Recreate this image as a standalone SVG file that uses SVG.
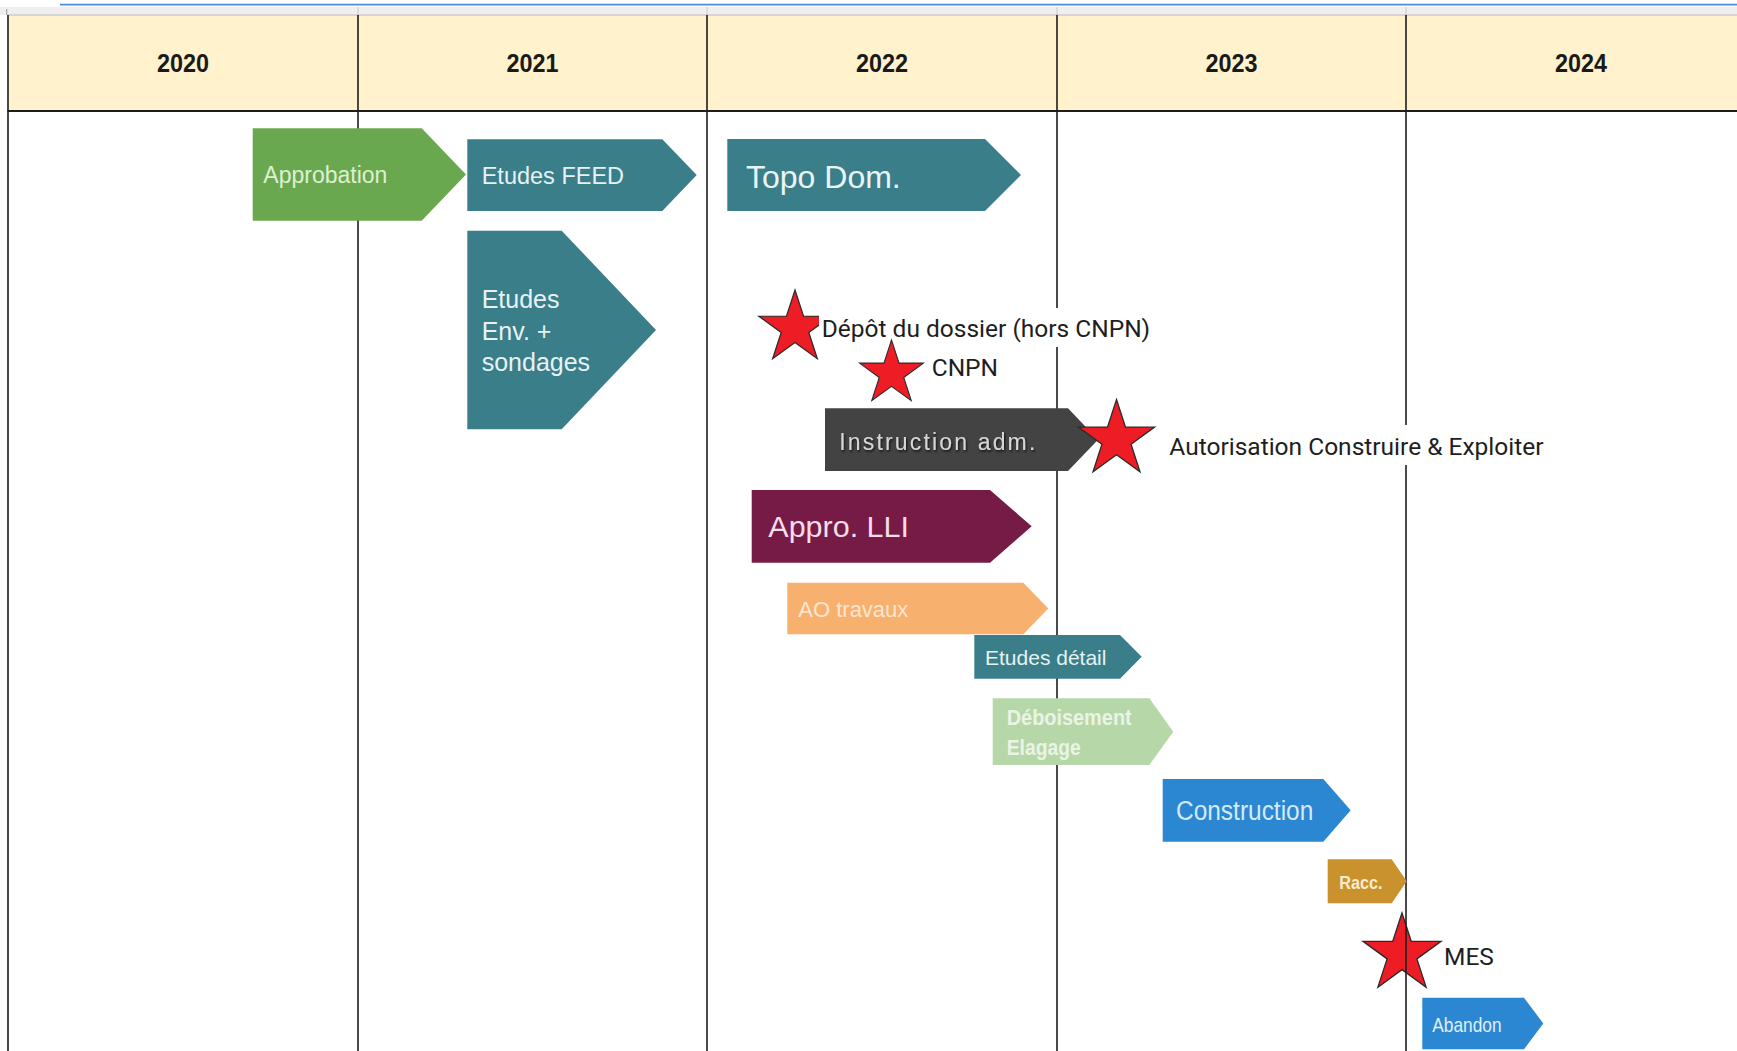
<svg xmlns="http://www.w3.org/2000/svg" width="1737" height="1051" viewBox="0 0 1737 1051">
  <defs>
    <style>
      .grid { stroke: #1c1c1c; stroke-width: 1.6; fill: none; }
      .yr { font-family: "Liberation Sans", Arial, sans-serif; font-weight: bold; font-size: 25px; fill: #1a1a1a; text-anchor: middle; }
      .lbl { font-family: "Liberation Sans", Arial, sans-serif; }
      .note { font-family: Roboto, "Liberation Sans", sans-serif; font-size: 24.5px; fill: #1e1e1e; }
      .star { fill: #EE1C25; stroke: #2b2b2b; stroke-width: 1.3; }
    </style>
    <polygon id="starShape" points="0,-40 8.99,-12.38 38.04,-12.36 14.55,4.73 23.51,32.36 0,15.3 -23.51,32.36 -14.55,4.73 -38.04,-12.36 -8.99,-12.38"/>
    <filter id="shadow" x="-10%" y="-30%" width="120%" height="160%">
      <feDropShadow dx="1" dy="1.5" stdDeviation="1" flood-color="#000000" flood-opacity="0.8"/>
    </filter>
  </defs>

  <rect x="0" y="0" width="1737" height="1051" fill="#ffffff"/>

  <!-- top chrome -->
  <g id="chrome">
    <line x1="60" y1="4.7" x2="1737" y2="4.7" stroke="#4A90D9" stroke-width="1.8"/>
    <rect x="0" y="7" width="1737" height="8" fill="#EFEFEF"/>
    <line x1="6.7" y1="9" x2="6.7" y2="15" stroke="#9a9a9a" stroke-width="1"/>
    <line x1="358" y1="7" x2="358" y2="15" stroke="#c8c8c8" stroke-width="1"/>
    <line x1="707" y1="7" x2="707" y2="15" stroke="#c8c8c8" stroke-width="1"/>
    <line x1="1057" y1="7" x2="1057" y2="15" stroke="#c8c8c8" stroke-width="1"/>
    <line x1="1406" y1="7" x2="1406" y2="15" stroke="#c8c8c8" stroke-width="1"/>
  </g>

  <!-- header band -->
  <g id="header">
    <rect x="7.5" y="15" width="1730" height="96" fill="#FFF2CC"/>
    <line x1="7.5" y1="15" x2="1737" y2="15" stroke="#b8b8b8" stroke-width="1"/>
  </g>

  <!-- MES star sits beneath the 2024 grid line -->
  <g id="star-mes">
    <use href="#starShape" class="star" transform="translate(1402,954) scale(1.025)"/>
  </g>

  <!-- grid lines -->
  <g id="grid">
    <line class="grid" x1="8" y1="15" x2="8" y2="1051"/>
    <line class="grid" x1="358" y1="15" x2="358" y2="1051"/>
    <line class="grid" x1="707" y1="15" x2="707" y2="1051"/>
    <line class="grid" x1="1057" y1="15" x2="1057" y2="1051"/>
    <line class="grid" x1="1406" y1="15" x2="1406" y2="1051"/>
    <line x1="7.5" y1="111" x2="1737" y2="111" stroke="#1c1c1c" stroke-width="2.2"/>
  </g>

  <!-- year headers -->
  <g id="years">
    <text class="yr" x="183" y="71.5" textLength="52" lengthAdjust="spacingAndGlyphs">2020</text>
    <text class="yr" x="532.5" y="71.5" textLength="52" lengthAdjust="spacingAndGlyphs">2021</text>
    <text class="yr" x="882" y="71.5" textLength="52" lengthAdjust="spacingAndGlyphs">2022</text>
    <text class="yr" x="1231.5" y="71.5" textLength="52" lengthAdjust="spacingAndGlyphs">2023</text>
    <text class="yr" x="1581" y="71.5" textLength="52" lengthAdjust="spacingAndGlyphs">2024</text>
  </g>

  <!-- task chevrons -->
  <g id="approbation">
    <polygon points="252.7,128.3 421.7,128.3 466,174.5 421.7,220.7 252.7,220.7" fill="#6AA84F"/>
    <text class="lbl" x="263.3" y="182.7" font-size="23" fill="#DDF0D5">Approbation</text>
  </g>

  <g id="etudes-feed">
    <polygon points="467.3,139.3 662.3,139.3 696.7,175 662.3,211 467.3,211" fill="#3A7E8A"/>
    <text class="lbl" x="481.7" y="184" font-size="23.5" fill="#E6F2F4">Etudes FEED</text>
  </g>

  <g id="etudes-env">
    <polygon points="467.3,230.7 561.7,230.7 656,330 561.7,429.3 467.3,429.3" fill="#3A7E8A"/>
    <text class="lbl" font-size="25" fill="#E6F2F4">
      <tspan x="481.7" y="308.3">Etudes</tspan>
      <tspan x="481.7" y="340">Env. +</tspan>
      <tspan x="481.7" y="370.5">sondages</tspan>
    </text>
  </g>

  <g id="topo-dom">
    <polygon points="727.3,139 985,139 1021,175 985,211 727.3,211" fill="#3A7E8A"/>
    <text class="lbl" x="746" y="187.7" font-size="32" fill="#EAF4F5">Topo Dom.</text>
  </g>

  <g id="instruction-adm">
    <polygon points="825,408.3 1068,408.3 1098,439.7 1068,471 825,471" fill="#434343"/>
    <text class="lbl" x="839.3" y="450" font-size="23" fill="#D6D6D6" textLength="196" lengthAdjust="spacing" filter="url(#shadow)">Instruction adm.</text>
  </g>

  <g id="appro-lli">
    <polygon points="751.7,490 990,490 1031.7,526.3 990,562.7 751.7,562.7" fill="#761B45"/>
    <text class="lbl" x="768.3" y="537" font-size="30" fill="#F6DDEA" textLength="140.7" lengthAdjust="spacingAndGlyphs">Appro. LLI</text>
  </g>

  <g id="ao-travaux">
    <polygon points="787.3,582.7 1023.3,582.7 1048.3,608.5 1023.3,634.3 787.3,634.3" fill="#F8B06E"/>
    <text class="lbl" x="798.3" y="616.7" font-size="22" fill="#FDE6D2">AO travaux</text>
  </g>

  <g id="etudes-detail">
    <polygon points="974.3,635 1120,635 1141.7,656.8 1120,678.7 974.3,678.7" fill="#3A7E8A"/>
    <text class="lbl" x="985" y="665" font-size="21" fill="#E6F2F4">Etudes détail</text>
  </g>

  <g id="deboisement">
    <polygon points="992.7,698.3 1149.3,698.3 1173.3,731.7 1149.3,765 992.7,765" fill="#B6D7A8"/>
    <text class="lbl" font-size="22" font-weight="bold" fill="#EAF4E5">
      <tspan x="1006.7" y="725" textLength="125" lengthAdjust="spacingAndGlyphs">Déboisement</tspan>
      <tspan x="1006.7" y="755" textLength="74" lengthAdjust="spacingAndGlyphs">Elagage</tspan>
    </text>
  </g>

  <g id="construction">
    <polygon points="1162.7,779 1323.3,779 1350.7,810.3 1323.3,841.7 1162.7,841.7" fill="#2B87D1"/>
    <text class="lbl" x="1176" y="820" font-size="27" fill="#D5EAF8" textLength="137.3" lengthAdjust="spacingAndGlyphs">Construction</text>
  </g>

  <g id="racc">
    <polygon points="1327.7,859.3 1391.7,859.3 1406.7,881.3 1391.7,903.3 1327.7,903.3" fill="#C9922C"/>
    <text class="lbl" x="1339.3" y="889.3" font-size="19" font-weight="bold" fill="#F8EBD0" textLength="43.3" lengthAdjust="spacingAndGlyphs">Racc.</text>
  </g>

  <g id="abandon">
    <polygon points="1422.3,997.7 1524,997.7 1543.3,1023.5 1524,1049.3 1422.3,1049.3" fill="#2B87D1"/>
    <text class="lbl" x="1432.3" y="1031.7" font-size="21" fill="#E0EEF9" textLength="69.3" lengthAdjust="spacingAndGlyphs">Abandon</text>
  </g>

  <!-- milestones -->
  <g id="depot">
    <use href="#starShape" class="star" transform="translate(795,328) scale(0.95)"/>
    <rect x="819" y="308" width="333" height="39" fill="#ffffff"/>
    <text class="note" x="821.7" y="336.7">Dépôt du dossier (hors CNPN)</text>
  </g>

  <g id="cnpn">
    <use href="#starShape" class="star" transform="translate(891.5,373.5) scale(0.84)"/>
    <text class="note" x="931.7" y="376">CNPN</text>
  </g>

  <g id="autorisation">
    <use href="#starShape" class="star" transform="translate(1116.5,439.5)"/>
    <rect x="1162" y="425" width="392" height="40" fill="#ffffff"/>
    <text class="note" x="1169.3" y="455" font-size="24.8">Autorisation Construire &amp; Exploiter</text>
  </g>

  <g id="mes">
    <text class="note" x="1444" y="965" font-size="25">MES</text>
  </g>
</svg>
